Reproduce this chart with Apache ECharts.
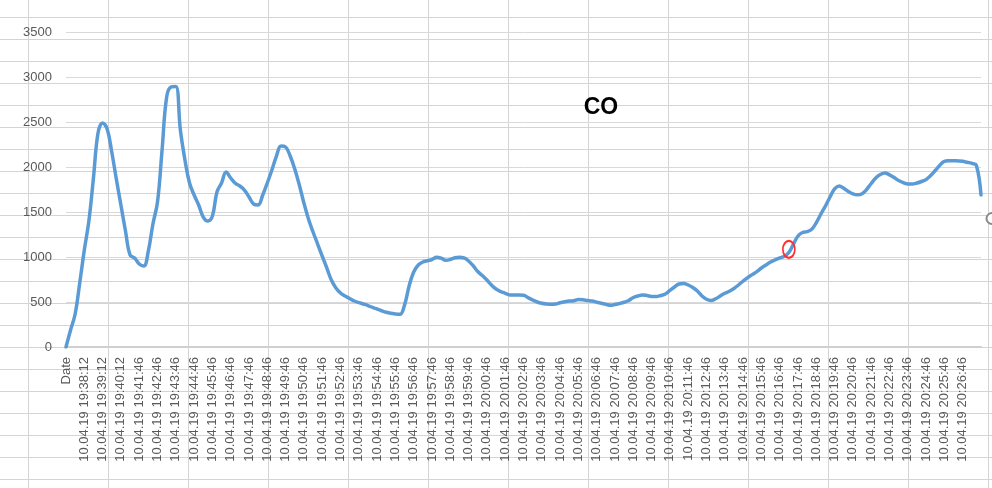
<!DOCTYPE html>
<html>
<head>
<meta charset="utf-8">
<script src="https://cdn.jsdelivr.net/npm/echarts@6/dist/echarts.min.js"></script>
<style>
  html, body { margin: 0; padding: 0; background: #ffffff; }
  #chart {
    width: 992px; height: 488px;
    background-color: #ffffff;
    background-image:
      linear-gradient(to right, #d4d4d4 1px, transparent 1px),
      linear-gradient(to bottom, #d4d4d4 1px, transparent 1px);
    background-size: 80px 22px;
    background-position: 28px 17px;
  }
</style>
</head>
<body>
<div id="chart"></div>
<script>
const tickLabels = [
  'Date', '10.04.19 19:38:12', '10.04.19 19:39:12', '10.04.19 19:40:12',
  '10.04.19 19:41:46', '10.04.19 19:42:46', '10.04.19 19:43:46', '10.04.19 19:44:46',
  '10.04.19 19:45:46', '10.04.19 19:46:46', '10.04.19 19:47:46', '10.04.19 19:48:46',
  '10.04.19 19:49:46', '10.04.19 19:50:46', '10.04.19 19:51:46', '10.04.19 19:52:46',
  '10.04.19 19:53:46', '10.04.19 19:54:46', '10.04.19 19:55:46', '10.04.19 19:56:46',
  '10.04.19 19:57:46', '10.04.19 19:58:46', '10.04.19 19:59:46', '10.04.19 20:00:46',
  '10.04.19 20:01:46', '10.04.19 20:02:46', '10.04.19 20:03:46', '10.04.19 20:04:46',
  '10.04.19 20:05:46', '10.04.19 20:06:46', '10.04.19 20:07:46', '10.04.19 20:08:46',
  '10.04.19 20:09:46', '10.04.19 20:10:46', '10.04.19 20:11:46', '10.04.19 20:12:46',
  '10.04.19 20:13:46', '10.04.19 20:14:46', '10.04.19 20:15:46', '10.04.19 20:16:46',
  '10.04.19 20:17:46', '10.04.19 20:18:46', '10.04.19 20:19:46', '10.04.19 20:20:46',
  '10.04.19 20:21:46', '10.04.19 20:22:46', '10.04.19 20:23:46', '10.04.19 20:24:46',
  '10.04.19 20:25:46', '10.04.19 20:26:46'
];
const pointsPerTick = 4;

const coValues = [
  0, 189, 367, 711, 1078, 1400, 1878, 2378, 2490, 2422,
  2167, 1867, 1578, 1289, 1022, 989, 922, 900, 1067, 1367,
  1611, 2189, 2778, 2890, 2895, 2411, 2078, 1822, 1689, 1578,
  1444, 1400, 1456, 1722, 1822, 1944, 1878, 1819, 1789, 1744,
  1667, 1589, 1578, 1689, 1822, 1967, 2122, 2233, 2222, 2122,
  1978, 1800, 1600, 1422, 1278, 1144, 1011, 878, 744, 656,
  600, 567, 539, 511, 494, 478, 461, 439, 422, 403,
  386, 374, 367, 363, 467, 678, 833, 911, 944, 959,
  972, 997, 987, 963, 972, 991, 997, 991, 956, 903,
  839, 794, 744, 689, 644, 617, 597, 578, 578, 578,
  575, 549, 522, 500, 486, 478, 474, 478, 492, 503,
  511, 514, 527, 524, 517, 511, 497, 486, 474, 463,
  472, 483, 497, 517, 550, 567, 578, 572, 562, 561,
  572, 589, 628, 667, 700, 706, 689, 661, 622, 567,
  530, 517, 536, 567, 597, 619, 650, 689, 733, 771,
  804, 838, 878, 911, 944, 967, 989, 1008, 1050, 1144,
  1233, 1272, 1282, 1308, 1381, 1478, 1567, 1667, 1756, 1789,
  1763, 1728, 1702, 1691, 1703, 1750, 1817, 1878, 1917, 1933,
  1913, 1883, 1850, 1827, 1811, 1810, 1822, 1839, 1860, 1906,
  1961, 2019, 2063, 2069, 2070, 2067, 2063, 2052, 2041, 2017,
  1690
];

const markedIndex = 158;
const markedValue = 1085;

const categories = coValues.map((v, i) =>
  (i % pointsPerTick === 0 && i / pointsPerTick < tickLabels.length)
    ? tickLabels[i / pointsPerTick] : ('pt' + i));

const chart = echarts.init(document.getElementById('chart'), null, { renderer: 'canvas' });
chart.setOption({
  animation: false,
  backgroundColor: 'transparent',
  grid: { left: 66, right: 11, top: 32, bottom: 141, containLabel: false },
  xAxis: {
    type: 'category',
    data: categories,
    boundaryGap: false,
    axisLine: { show: true, lineStyle: { color: '#d0d0d0', width: 2 } },
    axisTick: { show: false },
    splitLine: { show: false },
    axisLabel: {
      rotate: 90,
      margin: 10,
      color: '#595959',
      fontSize: 13,
      fontFamily: 'Liberation Sans, Arial, sans-serif',
      interval: (idx) => idx % pointsPerTick === 0 && idx / pointsPerTick < tickLabels.length,
      formatter: (val) => val.indexOf('pt') === 0 ? '' : val
    }
  },
  yAxis: {
    type: 'value',
    min: 0, max: 3500, interval: 500,
    axisLine: { show: false },
    axisTick: { show: false },
    splitLine: { show: true, lineStyle: { color: '#d9d9d9', width: 1 } },
    axisLabel: {
      margin: 14,
      color: '#595959',
      fontSize: 13,
      fontFamily: 'Liberation Sans, Arial, sans-serif',
      formatter: (v) => String(v)
    }
  },
  series: [{
    type: 'line',
    name: 'CO',
    data: coValues,
    smooth: 0.4,
    showSymbol: false,
    symbol: 'none',
    lineStyle: { color: '#5b9bd5', width: 3.5, cap: 'round', join: 'round' },
    markPoint: {
      symbol: 'circle',
      symbolSize: [12, 17],
      silent: true,
      label: { show: false },
      itemStyle: { color: 'rgba(0,0,0,0)', borderColor: '#ff3030', borderWidth: 2 },
      data: [{ coord: [markedIndex, markedValue] }]
    }
  }],
  graphic: [
    {
      type: 'text',
      x: 601, y: 108,
      style: {
        text: 'CO',
        fill: '#000000',
        font: 'bold 23px "Liberation Sans", Arial, sans-serif',
        textAlign: 'center',
        textVerticalAlign: 'middle'
      }
    },
    {
      type: 'circle',
      shape: { cx: 992, cy: 218.5, r: 5.5 },
      style: { fill: '#ffffff', stroke: '#8a8a8a', lineWidth: 2 }
    }
  ]
});
</script>
</body>
</html>
